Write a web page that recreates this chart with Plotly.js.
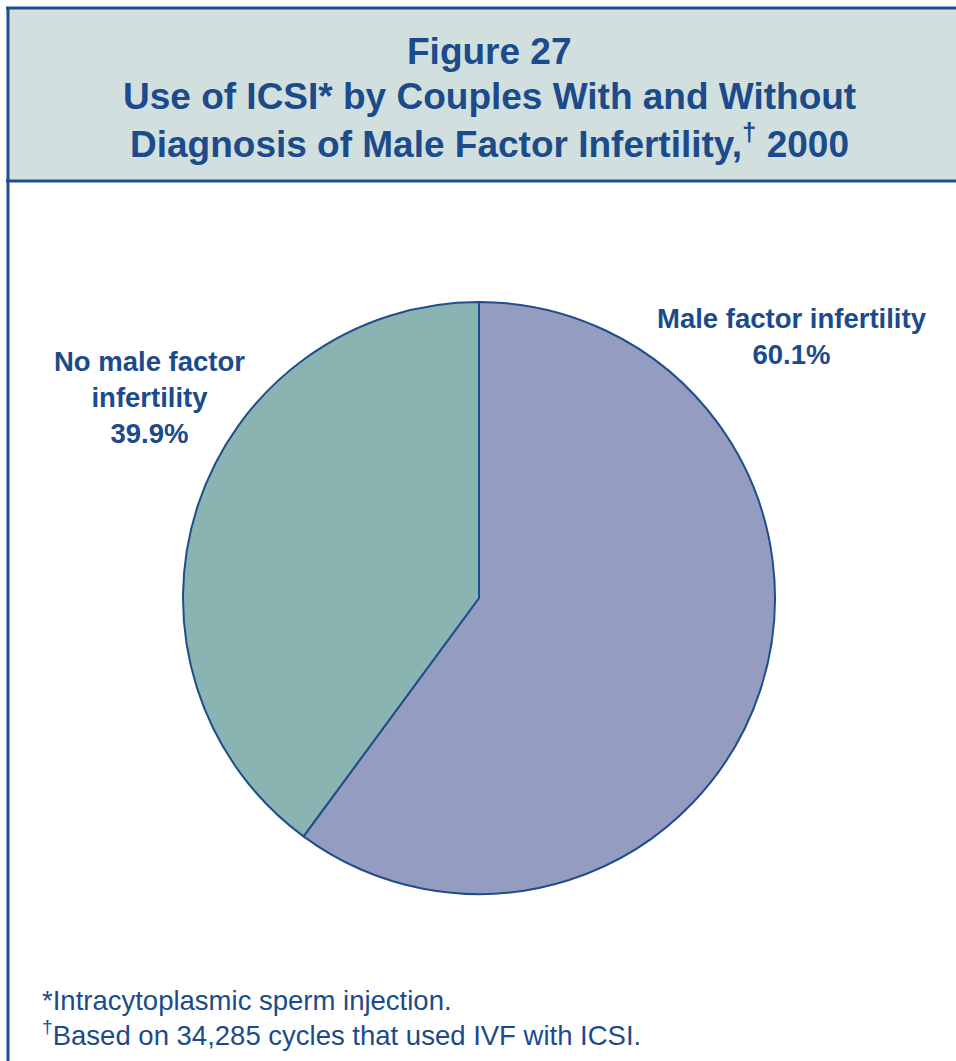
<!DOCTYPE html>
<html>
<head>
<meta charset="utf-8">
<script src="https://cdn.plot.ly/plotly-3.0.1.min.js"></script>
<style>
html,body{margin:0;padding:0;background:#ffffff;}
#chart{width:956px;height:1061px;}
</style>
</head>
<body>
<div id="chart"></div>
<script>
// ---- data ----
const categories = ["Male factor infertility", "No male factor<br>infertility"];
const values = [60.1, 39.9];
const sliceColors = ["#959cc1", "#8ab4b2"];
const titleLines = [
  "Figure 27",
  "Use of ICSI* by Couples With and Without",
  "Diagnosis of Male Factor Infertility,<sup>\u2020</sup> 2000"
];
const footnotes = [
  "*Intracytoplasmic sperm injection.",
  "<sup>\u2020</sup>Based on 34,285 cycles that used IVF with ICSI."
];

// ---- layout helpers ----
const W = 956, H = 1061;
const px = x => x / W;
const py = y => 1 - y / H;
const textColor = "#1b4b8a";
const borderColor = "#1f4e8c";
const FONT = "Liberation Sans, Arial, Helvetica, sans-serif";

const cx = 479, cy = 598, r = 296;

const trace = {
  type: "pie",
  labels: categories,
  values: values,
  sort: false,
  direction: "clockwise",
  rotation: 0,
  textinfo: "none",
  hoverinfo: "none",
  marker: {colors: sliceColors, line: {color: borderColor, width: 2}},
  domain: {x: [px(cx - r), px(cx + r)], y: [py(cy + r), py(cy - r)]},
  showlegend: false
};

const annotations = [];
const titleY = [52, 97, 141];
titleLines.forEach((t, i) => {
  annotations.push({
    text: "<b>" + t + "</b>", xref: "paper", yref: "paper",
    x: px(489), y: py(titleY[i]), xanchor: "center", yanchor: "middle",
    showarrow: false, font: {family: FONT, size: 37, color: textColor}
  });
});

// slice labels
const labelPos = [{x: 792, y: 337}, {x: 149, y: 397}];
categories.forEach((c, i) => {
  annotations.push({
    text: "<b>" + c + "<br>" + values[i].toFixed(1) + "%</b>",
    xref: "paper", yref: "paper", x: px(labelPos[i].x), y: py(labelPos[i].y),
    xanchor: "center", yanchor: "middle", align: "center", showarrow: false,
    font: {family: FONT, size: 27.5, color: textColor}
  });
});

const footY = [1000, 1033];
footnotes.forEach((f, i) => {
  annotations.push({
    text: f, xref: "paper", yref: "paper", x: px(40), y: py(footY[i]),
    xanchor: "left", yanchor: "middle", align: "left", showarrow: false,
    font: {family: FONT, size: 27.5, color: textColor}
  });
});

const shapes = [
  // header fill
  {type: "rect", xref: "paper", yref: "paper", x0: px(8), x1: px(960), y0: py(181), y1: py(8),
   fillcolor: "#d2dfdf", line: {width: 0}, layer: "below"},
  // top border
  {type: "line", xref: "paper", yref: "paper", x0: px(6), x1: px(960), y0: py(8), y1: py(8),
   line: {color: borderColor, width: 3}},
  // header bottom border
  {type: "line", xref: "paper", yref: "paper", x0: px(6), x1: px(960), y0: py(181), y1: py(181),
   line: {color: borderColor, width: 3}},
  // left border
  {type: "line", xref: "paper", yref: "paper", x0: px(8), x1: px(8), y0: py(7), y1: py(1065),
   line: {color: borderColor, width: 3}}
];

const layout = {
  width: W, height: H,
  margin: {l: 0, r: 0, t: 0, b: 0},
  paper_bgcolor: "#ffffff",
  annotations: annotations,
  shapes: shapes,
  showlegend: false
};

Plotly.newPlot("chart", [trace], layout, {staticPlot: true, displayModeBar: false});
</script>
</body>
</html>
